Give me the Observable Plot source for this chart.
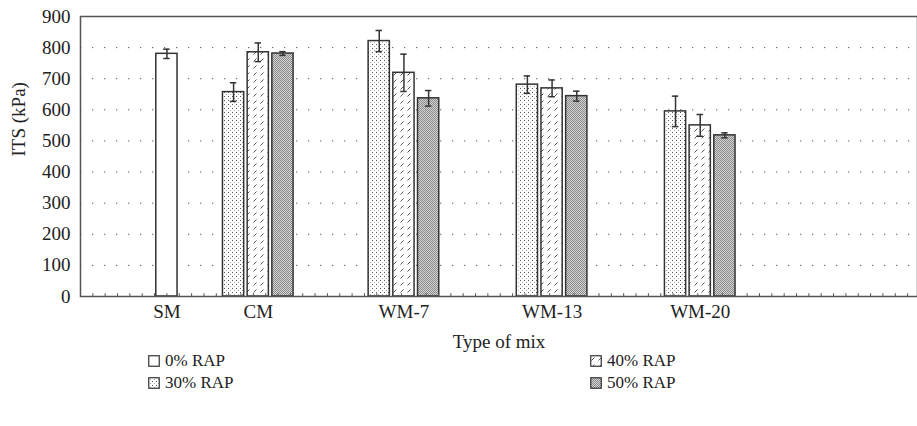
<!DOCTYPE html>
<html><head><meta charset="utf-8">
<script src="https://cdn.jsdelivr.net/npm/d3@7"></script>
<script src="https://cdn.jsdelivr.net/npm/@observablehq/plot@0.6"></script>
<style>
body{margin:0;background:#fff;font-family:"Liberation Serif",serif;}
#legend{position:relative;height:60px;font-size:17px;color:#222;}
.item{position:absolute;display:flex;align-items:center;gap:5px;height:22px;}
.item svg{display:block}
</style></head><body>
<div id="chart"></div>
<div id="legend"></div>
<script>
// ---- data ----
const categories = ["SM", "CM", "WM-7", "WM-13", "WM-20"];
const series = ["0% RAP", "30% RAP", "40% RAP", "50% RAP"];
const rap0   = [780, null, null, null, null];
const rap30  = [null, 657, 821, 681, 595];
const rap40  = [null, 785, 719, 669, 550];
const rap50  = [null, 781, 637, 644, 518];
const err0   = [15, null, null, null, null];
const err30  = [null, 30, 34, 28, 49];
const err40  = [null, 30, 60, 27, 35];
const err50  = [null, 6, 25, 16, 8];
const yTicks = [0, 100, 200, 300, 400, 500, 600, 700, 800, 900];

// ---- layout (in x-scale units, one unit per bar slot) ----
const groupPos = [3.5, 7.2, 13.1, 19.1, 25.1];
const xMax = 33.9;
const halfBar = 0.43, cap = 0.13;
const FS = 19;

const values = [rap0, rap30, rap40, rap50];
const errors = [err0, err30, err40, err50];
const patterns = ["#fff", "url(#p30)", "url(#p40)", "url(#p50)"];

const rows = [];
categories.forEach((c, ci) => {
  const present = series.map((s, si) => si).filter(si => values[si][ci] != null);
  present.forEach((si, j) => {
    rows.push({cat: c, series: series[si], si, value: values[si][ci], err: errors[si][ci],
      x: groupPos[ci] + j - (present.length - 1) / 2});
  });
});

const barMarks = series.map((s, si) =>
  Plot.rectY(rows.filter(d => d.si === si), {
    x1: d => d.x - halfBar, x2: d => d.x + halfBar, y: "value",
    fill: patterns[si], stroke: "#333", strokeWidth: 1.5
  })
);

const plot = Plot.plot({
  width: 917, height: 358,
  marginLeft: 80, marginRight: 0, marginTop: 16, marginBottom: 62,
  style: {fontFamily: "Liberation Serif, serif", color: "#222", background: "#fff"},
  x: {domain: [0, xMax], axis: null},
  y: {domain: [0, 900], axis: null},
  marks: [
    Plot.ruleY(yTicks.filter(t => t > 0 && t < 900), {stroke: "#555", strokeDasharray: "1.3,10.7"}),
    ...barMarks,
    Plot.ruleX(rows, {x: "x", y1: d => d.value - d.err, y2: d => d.value + d.err, stroke: "#333", strokeWidth: 1.5}),
    Plot.ruleY(rows, {y: d => d.value + d.err, x1: d => d.x - cap, x2: d => d.x + cap, stroke: "#333", strokeWidth: 1.5}),
    Plot.ruleY(rows, {y: d => d.value - d.err, x1: d => d.x - cap, x2: d => d.x + cap, stroke: "#333", strokeWidth: 1.5}),
    Plot.ruleX(d3.range(0, xMax, 0.5), {y1: 0, y2: 9, stroke: "#555"}),
    Plot.frame({stroke: "#555", strokeWidth: 1.5}),
    Plot.axisY({ticks: yTicks, tickSize: 0, tickPadding: 10, label: null, fontSize: FS, fill: "#222"}),
    Plot.text(categories, {x: (d, i) => groupPos[i], frameAnchor: "bottom", dy: 15, text: d => d, lineAnchor: "middle", fill: "#222", fontSize: FS}),
    Plot.text(["Type of mix"], {frameAnchor: "bottom", dy: 45, lineAnchor: "middle", fill: "#222", fontSize: FS}),
    Plot.text(["ITS (kPa)"], {frameAnchor: "left", dx: -62, rotate: -90, lineAnchor: "middle", fill: "#222", fontSize: FS})
  ]
});

const ns = "http://www.w3.org/2000/svg";
const defs = document.createElementNS(ns, "defs");
defs.innerHTML = `
<pattern id="p30" patternUnits="userSpaceOnUse" width="4" height="4">
  <rect width="4" height="4" fill="#fff"/>
  <rect x="0" y="0" width="1" height="1" fill="#555"/>
  <rect x="2" y="2" width="1" height="1" fill="#aaa"/>
</pattern>
<pattern id="p40" patternUnits="userSpaceOnUse" width="7" height="7">
  <rect width="7" height="7" fill="#fff"/>
  <path d="M1.5,5.5L4.5,2.5" stroke="#555" stroke-width="1"/>
</pattern>
<pattern id="p50" patternUnits="userSpaceOnUse" width="2" height="2">
  <rect width="2" height="2" fill="#d6d6d6"/>
  <rect x="0" y="0" width="1" height="1" fill="#888"/>
  <rect x="1" y="1" width="1" height="1" fill="#888"/>
</pattern>`;
plot.insertBefore(defs, plot.firstChild);
document.getElementById("chart").appendChild(plot);

// legend
const legend = document.getElementById("legend");
const legendLayout = [[0, 148, -8], [2, 590, -8], [1, 148, 14], [3, 590, 14]];
legendLayout.forEach(([si, left, top]) => {
  const it = document.createElement("div");
  it.className = "item";
  it.style.left = left + "px";
  it.style.top = top + "px";
  it.innerHTML = `<svg width="12" height="12"><rect x="0.75" y="0.75" width="10.5" height="10.5" fill="${patterns[si]}" stroke="#333" stroke-width="1.2"/></svg><span>${series[si]}</span>`;
  legend.appendChild(it);
});
</script>
</body></html>
